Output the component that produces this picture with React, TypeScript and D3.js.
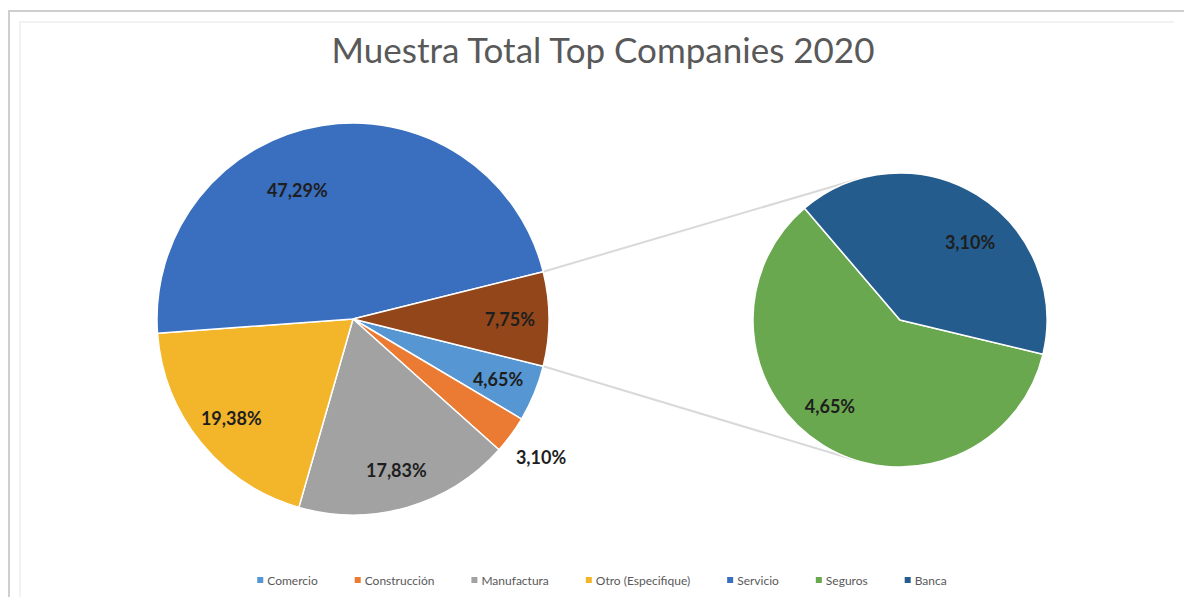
import React, { useEffect, useRef } from "react";
import * as d3 from "d3";

const W = 1184;
const H = 597;

// Main pie categories (the two smallest sectors are broken out into the secondary pie)
const mainCategories = ["Comercio", "Construcción", "Manufactura", "Otro (Especifique)", "Servicio"];
const mainValues = [4.65, 3.1, 17.83, 19.38, 47.29];

// Secondary pie categories
const splitCategories = ["Seguros", "Banca"];
const splitValues = [4.65, 3.1];

const legendOrder = [...mainCategories, ...splitCategories];

const colorOf: Record<string, string> = {
  Comercio: "#5696D2",
  "Construcción": "#EB7A33",
  Manufactura: "#A2A2A2",
  "Otro (Especifique)": "#F3B62B",
  Servicio: "#3A6EBE",
  Seguros: "#6AA84F",
  Banca: "#245D8D",
};
const otherColor = "#93461A";
const OTHER = "__other__";

// Small hand tweaks for label placement (Excel "best fit")
const labelNudge: Record<string, [number, number]> = {
  Servicio: [-31, 26],
  Banca: [14, 13],
  Seguros: [-14, -5],
};

const fmt = (v: number) => d3.format(".2f")(v).replace(".", ",") + "%";

type Slice = { key: string; value: number };

export default function App() {
  const ref = useRef<SVGSVGElement | null>(null);

  useEffect(() => {
    const svg = d3.select(ref.current);
    svg.selectAll("*").remove();

    // Chart frame
    svg.append("rect").attr("x", 0).attr("y", 0).attr("width", W).attr("height", H).attr("fill", "#ffffff");
    svg.append("path").attr("d", `M9,${H} V11 H${W}`).attr("fill", "none").attr("stroke", "#cfcfcf").attr("stroke-width", 2);
    svg.append("path").attr("d", `M20,${H} V22 H${W - 10}`).attr("fill", "none").attr("stroke", "#f2f2f2").attr("stroke-width", 2);

    // Title
    svg.append("text")
      .attr("x", 603).attr("y", 63)
      .attr("text-anchor", "middle")
      .attr("font-family", "Lato, 'Open Sans', sans-serif")
      .attr("font-size", 35)
      .attr("fill", "#595959")
      .text("Muestra Total Top Companies 2020");

    const labelFont = "Lato, 'Open Sans', sans-serif";
    const labelSize = 18;

    // ---- Main pie ----
    const cx1 = 353, cy1 = 319, r1 = 196;
    const otherValue = d3.sum(splitValues);
    const mainData: Slice[] = [
      ...mainCategories.map((c, i) => ({ key: c, value: mainValues[i] })),
      { key: OTHER, value: otherValue },
    ];
    const total = d3.sum(mainData, (d) => d.value);
    const otherSpan = (otherValue / total) * 2 * Math.PI;
    const start1 = Math.PI / 2 + otherSpan / 2;
    const pie1 = d3.pie<Slice>()
      .sort(null)
      .value((d) => d.value)
      .startAngle(start1)
      .endAngle(start1 + 2 * Math.PI);
    const arcs1 = pie1(mainData);
    const arc1 = d3.arc<d3.PieArcDatum<Slice>>().innerRadius(0).outerRadius(r1);

    // ---- Secondary pie ----
    const cx2 = 900, cy2 = 320, r2 = 147;
    const start2 = (103.5 * Math.PI) / 180;
    const splitData: Slice[] = splitCategories.map((c, i) => ({ key: c, value: splitValues[i] }));
    const pie2 = d3.pie<Slice>()
      .sort(null)
      .value((d) => d.value)
      .startAngle(start2)
      .endAngle(start2 + 2 * Math.PI);
    const arcs2 = pie2(splitData);
    const arc2 = d3.arc<d3.PieArcDatum<Slice>>().innerRadius(0).outerRadius(r2);

    // ---- Connector lines (tangent from the "other" sector corners to the secondary pie) ----
    const otherArc = arcs1.find((a) => a.data.key === OTHER)!;
    const pt = (ang: number, r: number, cx: number, cy: number): [number, number] => [
      cx + r * Math.sin(ang),
      cy - r * Math.cos(ang),
    ];
    const tangent = (p: [number, number], upper: boolean): [number, number] => {
      const dx = cx2 - p[0], dy = cy2 - p[1];
      const d = Math.hypot(dx, dy);
      const th = Math.atan2(dy, dx);
      const al = Math.asin(r2 / d);
      const L = Math.sqrt(d * d - r2 * r2);
      const a = upper ? th - al : th + al;
      return [p[0] + L * Math.cos(a), p[1] + L * Math.sin(a)];
    };
    const pTop = pt(otherArc.startAngle, r1, cx1, cy1);
    const pBot = pt(otherArc.endAngle, r1, cx1, cy1);
    const tTop = tangent(pTop, true);
    const tBot = tangent(pBot, false);
    const conn = svg.append("g").attr("stroke", "#d9d9d9").attr("stroke-width", 2);
    conn.append("line").attr("x1", pTop[0]).attr("y1", pTop[1]).attr("x2", tTop[0]).attr("y2", tTop[1]);
    conn.append("line").attr("x1", pBot[0]).attr("y1", pBot[1]).attr("x2", tBot[0]).attr("y2", tBot[1]);

    const g1 = svg.append("g").attr("transform", `translate(${cx1},${cy1})`);
    g1.selectAll("path")
      .data(arcs1)
      .join("path")
      .attr("d", arc1)
      .attr("fill", (d) => (d.data.key === OTHER ? otherColor : colorOf[d.data.key]))
      .attr("stroke", "#ffffff")
      .attr("stroke-width", 1.5)
      .attr("stroke-linejoin", "round");

    g1.selectAll("text")
      .data(arcs1)
      .join("text")
      .each(function (d) {
        const mid = (d.startAngle + d.endAngle) / 2;
        const share = d.data.value / total;
        const rr = share < 0.04 ? r1 * 1.19 : r1 * 0.8;
        let x = rr * Math.sin(mid);
        let y = -rr * Math.cos(mid);
        const n = labelNudge[d.data.key];
        if (n) { x += n[0]; y += n[1]; }
        d3.select(this).attr("x", x).attr("y", y);
      })
      .attr("text-anchor", "middle")
      .attr("dominant-baseline", "central")
      .attr("font-family", labelFont)
      .attr("font-weight", 700)
      .attr("font-size", labelSize)
      .attr("fill", "#1e1e1e")
      .text((d) => fmt(d.data.value));

    const g2 = svg.append("g").attr("transform", `translate(${cx2},${cy2})`);
    g2.selectAll("path")
      .data(arcs2)
      .join("path")
      .attr("d", arc2)
      .attr("fill", (d) => colorOf[d.data.key])
      .attr("stroke", "#ffffff")
      .attr("stroke-width", 1.5)
      .attr("stroke-linejoin", "round");

    g2.selectAll("text")
      .data(arcs2)
      .join("text")
      .each(function (d) {
        const mid = (d.startAngle + d.endAngle) / 2;
        const rr = r2 * 0.73;
        let x = rr * Math.sin(mid);
        let y = -rr * Math.cos(mid);
        const n = labelNudge[d.data.key];
        if (n) { x += n[0]; y += n[1]; }
        d3.select(this).attr("x", x).attr("y", y);
      })
      .attr("text-anchor", "middle")
      .attr("dominant-baseline", "central")
      .attr("font-family", labelFont)
      .attr("font-weight", 700)
      .attr("font-size", labelSize)
      .attr("fill", "#1e1e1e")
      .text((d) => fmt(d.data.value));

    // ---- Legend ----
    const legend = svg.append("g");
    const items = legend.selectAll("g").data(legendOrder).join("g");
    items.append("rect")
      .attr("width", 6).attr("height", 6)
      .attr("y", -3)
      .attr("fill", (d) => colorOf[d]);
    items.append("text")
      .attr("x", 10)
      .attr("dominant-baseline", "central")
      .attr("font-family", labelFont)
      .attr("font-size", 12)
      .attr("fill", "#595959")
      .text((d) => d);
    const gap = 37;
    const widths: number[] = [];
    items.select<SVGTextElement>("text").each(function () {
      widths.push(10 + this.getComputedTextLength());
    });
    const totalW = d3.sum(widths) + gap * (widths.length - 1);
    let xpos = 602 - totalW / 2;
    items.attr("transform", (_d, i) => {
      const t = `translate(${xpos},580)`;
      xpos += widths[i] + gap;
      return t;
    });
  }, []);

  return (
    <svg
      ref={ref}
      width={W}
      height={H}
      style={{ position: "absolute", left: 0, top: 0, display: "block" }}
    />
  );
}
